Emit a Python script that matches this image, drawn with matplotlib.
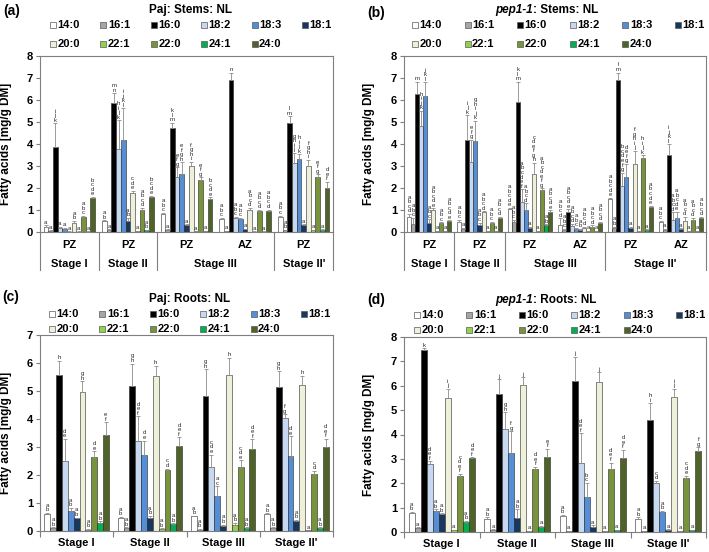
import matplotlib
matplotlib.use("Agg")
import matplotlib.pyplot as plt
import numpy as np
from matplotlib.patches import Rectangle
from matplotlib.text import Annotation
from matplotlib.transforms import blended_transform_factory

plt.rcParams["font.family"] = ["Liberation Sans", "DejaVu Sans"]

W, H = 709, 552

ACIDS = ["14:0", "16:1", "16:0", "18:2", "18:3", "18:1",
         "20:0", "22:1", "22:0", "24:1", "24:0"]
BAR_COLORS = ["#FFFFFF", "#A6A6A6", "#000000", "#C6D9F1", "#558ED5", "#17375E",
              "#EEF0DA", "#92D050", "#77933C", "#00B050", "#4F6228"]

# ---- (a) Paj stems ----
PAJ_STEM_ZONES = ["PZ", "PZ", "PZ", "AZ", "PZ"]
PAJ_STEM_STAGES = ["Stage I", "Stage II", "Stage III", "Stage III", "Stage II'"]
PAJ_STEM_VALUES = [
    [0.25, 0.05, 3.85, 0.20, 0.15, 0.02, 0.42, 0.02, 0.68, 0.02, 1.55],
    [0.48, 0.10, 5.85, 3.78, 4.18, 0.50, 1.77, 0.05, 1.00, 0.08, 1.57],
    [0.83, 0.10, 4.72, 2.50, 2.62, 0.30, 2.98, 0.03, 2.38, 0.05, 1.48],
    [0.60, 0.05, 6.90, 0.65, 0.60, 0.12, 1.02, 0.02, 0.95, 0.02, 0.97],
    [0.70, 0.08, 4.97, 3.15, 3.33, 0.30, 2.98, 0.08, 2.52, 0.10, 1.98],
]
PAJ_STEM_ERR = [
    [0.05, 0.02, 1.10, 0.05, 0.05, 0.01, 0.08, 0.01, 0.05, 0.01, 0.05],
    [0.05, 0.02, 0.45, 1.30, 1.45, 0.15, 0.10, 0.01, 0.10, 0.02, 0.08],
    [0.05, 0.02, 0.25, 0.45, 0.55, 0.05, 0.20, 0.01, 0.10, 0.01, 0.10],
    [0.05, 0.01, 0.35, 0.05, 0.05, 0.02, 0.08, 0.01, 0.05, 0.01, 0.05],
    [0.05, 0.02, 0.30, 0.45, 0.20, 0.05, 0.30, 0.01, 0.10, 0.02, 0.30],
]
PAJ_STEM_LETTERS = [
    ["a", "a", "ijk", "a", "a", "a", "ab", "a", "abc", "a", "bcde"],
    ["ab", "a", "mn", "hijk", "ijkl", "ab", "cde", "a", "abcd", "ab", "bcde"],
    ["abc", "a", "klm", "efg", "efgh", "a", "fghi", "a", "efg", "a", "bcde"],
    ["abc", "a", "n", "abc", "abc", "a", "abcd", "a", "abcd", "a", "abcd"],
    ["abc", "ab", "lm", "ghij", "hijk", "a", "fghi", "a", "efg", "a", "def"],
]

# ---- (b) pep1-1 stems ----
PEP_STEM_ZONES = ["PZ", "PZ", "PZ", "AZ", "PZ", "AZ"]
PEP_STEM_STAGES = ["Stage I", "Stage II", "Stage III", "Stage III", "Stage II'", "Stage II'"]
PEP_STEM_VALUES = [
    [0.67, 0.35, 6.28, 4.80, 6.20, 0.42, 1.02, 0.05, 0.40, 0.05, 0.48],
    [0.45, 0.15, 4.20, 3.20, 4.15, 0.33, 0.90, 0.05, 0.42, 0.05, 0.63],
    [1.05, 0.45, 5.92, 1.35, 1.00, 0.20, 2.65, 0.05, 1.93, 0.30, 0.93],
    [0.33, 0.10, 0.93, 0.28, 0.15, 0.10, 0.20, 0.05, 0.25, 0.05, 0.42],
    [1.50, 0.20, 6.90, 2.10, 2.50, 0.20, 3.08, 0.05, 3.38, 0.10, 1.15],
    [0.45, 0.10, 3.48, 0.55, 0.62, 0.12, 0.48, 0.05, 0.55, 0.05, 0.65],
]
PEP_STEM_ERR = [
    [0.15, 0.30, 0.55, 0.70, 0.60, 0.15, 0.05, 0.01, 0.05, 0.01, 0.05],
    [0.10, 0.05, 1.10, 1.00, 0.90, 0.10, 0.05, 0.01, 0.05, 0.01, 0.05],
    [0.05, 0.10, 0.90, 0.60, 0.30, 0.05, 0.50, 0.01, 0.05, 0.05, 0.05],
    [0.30, 0.05, 0.10, 0.10, 0.05, 0.05, 0.05, 0.01, 0.05, 0.01, 0.05],
    [0.05, 0.05, 0.35, 0.60, 0.60, 0.05, 0.60, 0.01, 0.10, 0.02, 0.05],
    [0.05, 0.05, 0.50, 0.35, 0.30, 0.05, 0.20, 0.01, 0.10, 0.01, 0.05],
]
PEP_STEM_LETTERS = [
    ["abcd", "abc", "m", "hijk", "jkl", "abc", "abcde", "a", "abc", "a", "abcde"],
    ["abc", "a", "ijk", "efg", "ghijk", "abc", "abcd", "a", "abc", "a", "abcd"],
    ["abcde", "abc", "klm", "abcdef", "abcd", "a", "cdefgh", "a", "abcdefg", "ab", "abcde"],
    ["abcd", "abc", "abcde", "abcd", "abc", "ab", "abcd", "a", "abcd", "a", "abcd"],
    ["abcde", "ab", "lm", "bcdefg", "defg", "a", "fghij", "a", "hijk", "a", "abcde"],
    ["abc", "a", "ijkl", "abcd", "abcde", "a", "abcd", "a", "abcd", "a", "abcd"],
]

# ---- (c) Paj roots ----
ROOT_STAGES = ["Stage I", "Stage II", "Stage III", "Stage II'"]
PAJ_ROOT_VALUES = [
    [0.60, 0.12, 5.58, 2.50, 0.72, 0.45, 4.95, 0.05, 2.65, 0.30, 3.43],
    [0.45, 0.12, 5.18, 3.20, 2.73, 0.45, 5.55, 0.08, 2.18, 0.25, 3.05],
    [0.52, 0.05, 4.83, 2.28, 1.25, 0.18, 5.58, 0.20, 2.28, 0.12, 2.92],
    [0.60, 0.12, 5.15, 4.02, 2.68, 0.35, 5.20, 0.02, 2.05, 0.12, 3.00],
]
PAJ_ROOT_ERR = [
    [0.05, 0.02, 0.50, 0.80, 0.10, 0.03, 0.40, 0.02, 0.20, 0.05, 0.45],
    [0.05, 0.02, 0.80, 0.90, 0.50, 0.10, 0.35, 0.02, 0.05, 0.03, 0.30],
    [0.03, 0.02, 0.95, 0.45, 0.35, 0.05, 0.60, 0.10, 0.25, 0.02, 0.35],
    [0.03, 0.02, 0.55, 0.15, 0.70, 0.05, 0.35, 0.01, 0.10, 0.02, 0.30],
]
PAJ_ROOT_LETTERS = [
    ["ab", "ab", "h", "de", "ab", "ab", "gh", "ab", "de", "ab", "ef"],
    ["ab", "ab", "gh", "def", "de", "ab", "h", "ab", "cd", "ab", "def"],
    ["ab", "ab", "gh", "cde", "ac", "ab", "h", "ab", "cde", "ab", "def"],
    ["ab", "ab", "gh", "fg", "de", "ab", "h", "a", "cd", "ab", "def"],
]

# ---- (d) pep1-1 roots ----
PEP_ROOT_VALUES = [
    [0.78, 0.18, 7.48, 2.80, 0.88, 0.72, 5.48, 0.08, 2.28, 0.40, 3.02],
    [0.55, 0.10, 5.67, 4.22, 3.23, 0.58, 6.05, 0.05, 2.57, 0.22, 3.07],
    [0.65, 0.05, 6.20, 2.85, 1.42, 0.22, 6.15, 0.03, 2.60, 0.08, 3.03],
    [0.55, 0.05, 4.58, 2.00, 0.82, 0.10, 5.53, 0.03, 2.20, 0.08, 3.32],
]
PEP_ROOT_ERR = [
    [0.05, 0.02, 0.05, 0.10, 0.05, 0.05, 0.40, 0.01, 0.10, 0.05, 0.05],
    [0.05, 0.02, 0.60, 0.70, 0.90, 0.35, 0.30, 0.01, 0.10, 0.03, 0.35],
    [0.05, 0.01, 1.00, 1.20, 0.60, 0.05, 0.40, 0.01, 0.25, 0.02, 0.35],
    [0.05, 0.01, 0.70, 0.10, 0.05, 0.02, 0.35, 0.01, 0.10, 0.02, 0.15],
]
PEP_ROOT_LETTERS = [
    ["ab", "a", "k", "def", "ab", "ab", "ij", "a", "cdef", "ab", "def"],
    ["ab", "a", "j", "gh", "fg", "ab", "j", "a", "def", "a", "ef"],
    ["ab", "a", "j", "def", "bc", "a", "j", "a", "def", "a", "def"],
    ["ab", "a", "hi", "cd", "ab", "a", "ij", "a", "cde", "a", "fg"],
]

GRAY = "#7F7F7F"


def add_axes_px(fig, left, top, right, bottom):
    return fig.add_axes([left / W, 1 - bottom / H, (right - left) / W, (bottom - top) / H])


def draw_bars(ax, values, errs, letters):
    values = np.array(values)
    errs = np.array(errs)
    n = len(values)
    w = 0.08
    for k in range(len(ACIDS)):
        x = np.arange(n) + (k - 5) * w
        ax.bar(x, values[:, k], w, color=BAR_COLORS[k], edgecolor="#262626",
               linewidth=0.4, zorder=2)
        ax.errorbar(x, values[:, k], yerr=[np.zeros(n), errs[:, k]], fmt="none",
                    ecolor="#8C8C8C", elinewidth=0.6, capsize=1.1, capthick=0.6, zorder=3)
        for i in range(n):
            ax.annotate("\n".join(letters[i][k]), (x[i], values[i, k] + errs[i, k]),
                        xytext=(0, 0.4), textcoords="offset points", ha="center",
                        va="bottom", fontsize=4.3, linespacing=0.88,
                        color="#262626", annotation_clip=False, zorder=4)


def style_axis(ax, ymax, n):
    ax.set_xlim(-0.5, n - 0.5)
    ax.set_ylim(0, ymax)
    ax.set_yticks(range(ymax + 1))
    ax.set_yticklabels([str(v) for v in range(ymax + 1)], fontsize=8, fontweight="bold")
    ax.tick_params(axis="y", direction="out", length=3, color=GRAY, pad=2)
    for sp in ax.spines.values():
        sp.set_color(GRAY)
        sp.set_linewidth(0.8)
    ax.set_ylabel("Fatty acids [mg/g DM]", fontsize=8.5, fontweight="bold")
    ax.yaxis.set_label_coords(-0.095, 0.5)


def stage_spans(stages):
    spans = []
    start = 0
    for i in range(1, len(stages) + 1):
        if i == len(stages) or stages[i] != stages[start]:
            spans.append((stages[start], start, i - 1))
            start = i
    return spans


def category_axis(ax, stages, zones=None):
    trans = blended_transform_factory(ax.transData, ax.transAxes)
    spans = stage_spans(stages)
    bounds = [s[1] - 0.5 for s in spans] + [spans[-1][2] + 0.5]
    if zones is not None:
        for i, z in enumerate(zones):
            ax.text(i, -0.074, z, transform=trans, ha="center", va="center",
                    fontsize=8, fontweight="bold")
        for name, a, b in spans:
            ax.text((a + b) / 2, -0.18, name, transform=trans, ha="center",
                    va="center", fontsize=8, fontweight="bold")
        for b in bounds:
            ax.plot([b, b], [0, -0.215], transform=trans, color=GRAY, lw=0.8,
                    clip_on=False)
        ax.set_xticks([])
    else:
        ax.set_xticks(bounds)
        ax.set_xticklabels([])
        ax.tick_params(axis="x", direction="out", length=4, color=GRAY)
        for name, a, b in spans:
            ax.text((a + b) / 2, -0.062, name, transform=trans, ha="center",
                    va="center", fontsize=8, fontweight="bold")


def draw_legend(fig, x0, step, y_rows):
    for k, name in enumerate(ACIDS):
        row, col = divmod(k, 6)
        x = x0 + col * step
        y = y_rows[row]
        fig.patches.append(Rectangle((x / W, 1 - (y + 3) / H), 6 / W, 6 / H,
                                     transform=fig.transFigure, facecolor=BAR_COLORS[k],
                                     edgecolor="#595959", linewidth=0.5))
        fig.text((x + 7.5) / W, 1 - y / H, name, fontsize=8, fontweight="bold",
                 ha="left", va="center")


def draw_title(fig, x_center, y, strain, rest, italic):
    if italic:
        t1 = fig.text(x_center / W, 1 - y / H, strain, fontsize=8.5, fontweight="bold",
                      fontstyle="italic", ha="right", va="center")
        fig.add_artist(Annotation(rest, xy=(1, 0.5), xycoords=t1, va="center",
                                  ha="left", fontsize=8.5, fontweight="bold"))
    else:
        fig.text(x_center / W, 1 - y / H, strain + rest, fontsize=8.5,
                 fontweight="bold", ha="center", va="center")


fig = plt.figure(figsize=(W / 100, H / 100), dpi=100)

ax_a = add_axes_px(fig, 40, 56, 333, 232)
draw_bars(ax_a, PAJ_STEM_VALUES, PAJ_STEM_ERR, PAJ_STEM_LETTERS)
style_axis(ax_a, 8, len(PAJ_STEM_VALUES))
category_axis(ax_a, PAJ_STEM_STAGES, PAJ_STEM_ZONES)

ax_b = add_axes_px(fig, 404, 56, 706, 232)
draw_bars(ax_b, PEP_STEM_VALUES, PEP_STEM_ERR, PEP_STEM_LETTERS)
style_axis(ax_b, 8, len(PEP_STEM_VALUES))
category_axis(ax_b, PEP_STEM_STAGES, PEP_STEM_ZONES)

ax_c = add_axes_px(fig, 40, 335, 333, 531)
draw_bars(ax_c, PAJ_ROOT_VALUES, PAJ_ROOT_ERR, PAJ_ROOT_LETTERS)
style_axis(ax_c, 7, len(PAJ_ROOT_VALUES))
category_axis(ax_c, ROOT_STAGES)

ax_d = add_axes_px(fig, 404, 337, 706, 532)
draw_bars(ax_d, PEP_ROOT_VALUES, PEP_ROOT_ERR, PEP_ROOT_LETTERS)
style_axis(ax_d, 8, len(PEP_ROOT_VALUES))
category_axis(ax_d, ROOT_STAGES)

draw_legend(fig, 50, 50.4, [25, 44])
draw_legend(fig, 412, 52.6, [25, 44])
draw_legend(fig, 49, 50.4, [314, 329])
draw_legend(fig, 414, 52.4, [315, 330])

draw_title(fig, 190, 10, "Paj: Stems: NL", "", False)
draw_title(fig, 533, 10, "pep1-1", ": Stems: NL", True)
draw_title(fig, 190, 299, "Paj: Roots: NL", "", False)
draw_title(fig, 533, 300, "pep1-1", ": Roots: NL", True)

for label, x, y in [("(a)", 3, 11), ("(b)", 367, 13), ("(c)", 2, 297), ("(d)", 367, 300)]:
    fig.text(x / W, 1 - y / H, label, fontsize=10, fontweight="bold", ha="left", va="center")

fig.savefig("out.png", dpi=100)
